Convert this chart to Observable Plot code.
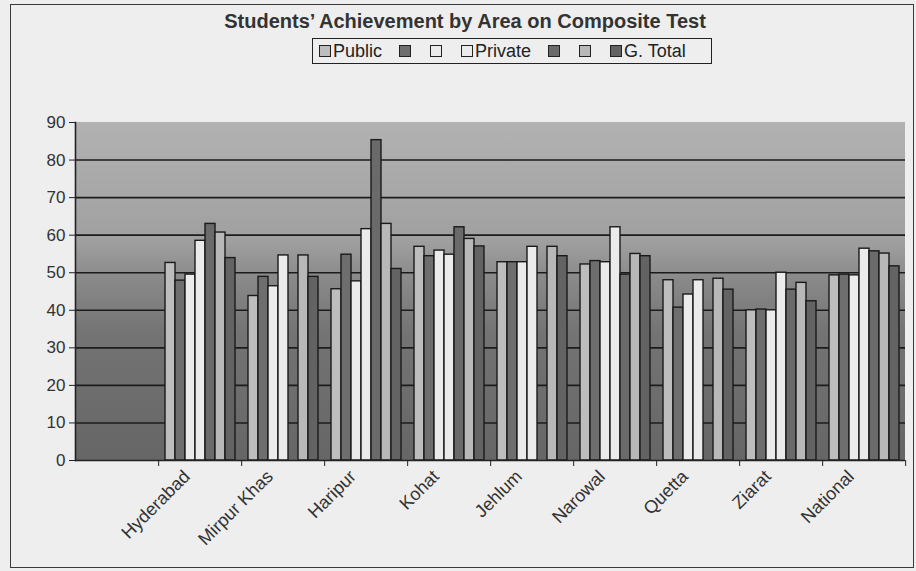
<!DOCTYPE html>
<html>
<head>
<meta charset="utf-8">
<script src="https://cdn.jsdelivr.net/npm/d3@7"></script>
<script src="https://cdn.jsdelivr.net/npm/@observablehq/plot@0.6"></script>
<style>
html, body { margin: 0; padding: 0; background: #eeeeee; }
#chart { position: relative; width: 916px; height: 571px; overflow: hidden; font-family: "Liberation Sans", Arial, sans-serif; color: #222; }
#border { position: absolute; left: 10px; top: 4px; width: 904px; height: 564px; border: 1.5px solid #3a3a3a; box-sizing: border-box; pointer-events: none; }
#head { position: relative; height: 90px; }
#title { position: absolute; left: 0; width: 930px; top: 10px; text-align: center; font-weight: bold; font-size: 20px; color: #333; }
#legend { position: absolute; left: 312px; top: 38px; width: 400px; height: 26px; border: 1.5px solid #222; box-sizing: border-box; display: flex; align-items: center; padding-left: 6px; font-size: 18px; color: #222; }
.item { display: flex; align-items: center; margin-right: 17px; }
.sw { display: inline-block; width: 10px; height: 10px; border: 1px solid #222; margin-right: 2px; }
#plot svg { display: block; }
</style>
</head>
<body>
<svg width="0" height="0" style="position:absolute">
  <defs>
    <linearGradient id="bgGrad" x1="0" y1="0" x2="0" y2="1">
      <stop offset="0%" stop-color="#b2b2b2"/>
      <stop offset="35%" stop-color="#a0a0a0"/>
      <stop offset="46%" stop-color="#8a8a8a"/>
      <stop offset="62%" stop-color="#747474"/>
      <stop offset="100%" stop-color="#666666"/>
    </linearGradient>
  </defs>
</svg>
<div id="chart">
  <div id="head">
    <div id="title">Students’ Achievement by Area on Composite Test</div>
    <div id="legend"></div>
  </div>
  <div id="plot"></div>
  <div id="border"></div>
</div>
<script>
// Categories (first slot is empty in the original chart)
const areas = ["", "Hyderabad", "Mirpur Khas", "Haripur", "Kohat", "Jehlum", "Narowal", "Quetta", "Ziarat", "National"];
// Series (only three legend entries carry visible text in the original)
const series = ["Public", "Series 2", "Series 3", "Private", "Series 5", "Series 6", "G. Total"];
const legendLabels = ["Public", "", "", "Private", "", "", "G. Total"];
const colors = ["#bdbdbd", "#6e6e6e", "#ebebeb", "#ebebeb", "#6a6a6a", "#b8b8b8", "#636363"];

// Values per area, in series order (null = no bar)
const hyderabad  = [52.6, 47.9, 49.5, 58.5, 63.0, 60.7, 53.9];
const mirpurKhas = [43.8, 48.9, 46.4, 54.6, null, 54.6, 48.9];
const haripur    = [45.6, 54.8, 47.7, 61.6, 85.3, 63.0, 51.0];
const kohat      = [56.9, 54.4, 55.9, 54.8, 62.1, 59.0, 57.0];
const jehlum     = [52.8, 52.8, 52.8, 56.9, null, 56.9, 54.4];
const narowal    = [52.2, 53.1, 52.8, 62.1, 49.5, 55.0, 54.4];
const quetta     = [48.0, 40.7, 44.2, 48.0, null, 48.4, 45.5];
const ziarat     = [40.0, 40.2, 40.0, 50.0, 45.5, 47.3, 42.4];
const national   = [49.3, 49.5, 49.3, 56.4, 55.7, 55.1, 51.7];

const yTicks = [0, 10, 20, 30, 40, 50, 60, 70, 80, 90];

const byArea = [hyderabad, mirpurKhas, haripur, kohat, jehlum, narowal, quetta, ziarat, national];
const rows = areas.slice(1).flatMap((a, i) =>
  series.map((s, j) => ({area: a, series: s, value: byArea[i][j]}))
).filter(d => d.value != null);

// Legend
const legend = document.getElementById("legend");
series.forEach((s, i) => {
  const item = document.createElement("span");
  item.className = "item";
  const sw = document.createElement("span");
  sw.className = "sw";
  sw.style.background = colors[i];
  item.appendChild(sw);
  if (legendLabels[i]) item.appendChild(document.createTextNode(legendLabels[i]));
  legend.appendChild(item);
});

const W = 916, H = 481, ML = 73, MR = 10, MT = 32, MB = 111;
const half = (W - ML - MR) / areas.length / 2;

const chart = Plot.plot({
  width: W, height: H,
  marginLeft: ML, marginRight: MR, marginTop: MT, marginBottom: MB,
  style: {background: "transparent", fontFamily: "Liberation Sans, Arial, sans-serif", color: "#222", overflow: "visible"},
  fx: {domain: areas, padding: 0, axis: null, label: null},
  x: {domain: series, paddingInner: 0, paddingOuter: 0.65, axis: null},
  y: {domain: [0, 90], axis: null},
  color: {domain: series, range: colors},
  marks: [
    Plot.rect(areas, {fx: d => d, fill: "url(#bgGrad)"}),
    Plot.ruleY(yTicks.filter(t => t > 0 && t < 90), {stroke: "#1c1c1c", strokeWidth: 1.6}),
    Plot.barY(rows, {fx: "area", x: "series", y: "value", fill: "series", stroke: "#1a1a1a", strokeWidth: 1.4}),
    Plot.ruleY([0], {stroke: "#222", strokeWidth: 1.6}),
    Plot.frame({anchor: "left", facetAnchor: "left", stroke: "#222", strokeWidth: 1.6}),
    Plot.axisY({ticks: yTicks, tickSize: 6, tickPadding: 4, fontSize: 17, stroke: "#222", fill: "#333", label: null}),
    Plot.axisFx({anchor: "bottom", tickSize: 6, text: null, dx: half, stroke: "#222", label: null}),
    Plot.axisFx({anchor: "bottom", tickSize: 0, tickPadding: 8, tickRotate: -45, fontSize: 18, dx: -13, dy: 5, fill: "#333", label: null})
  ]
});
document.getElementById("plot").appendChild(chart);
</script>
</body>
</html>
